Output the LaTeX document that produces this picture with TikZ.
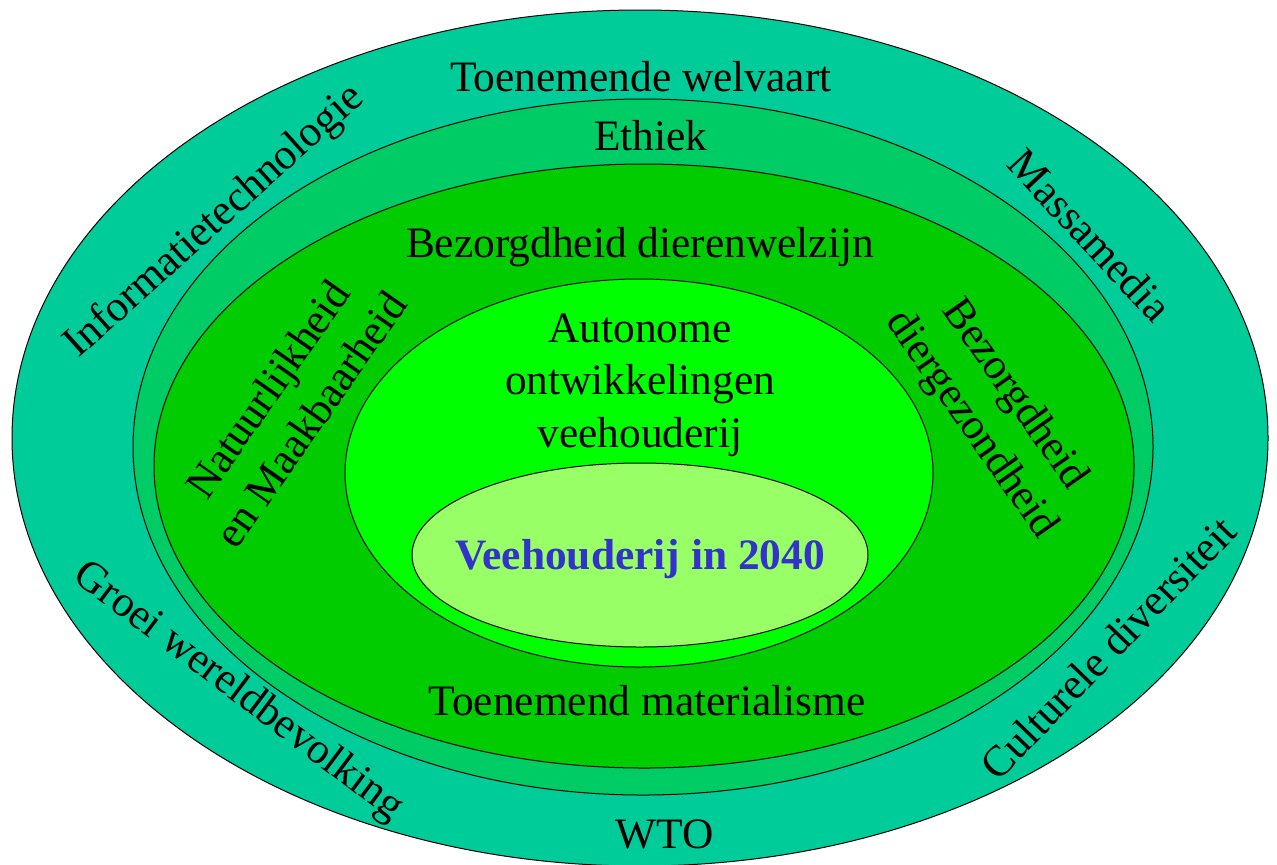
\documentclass[tikz,border=0pt]{standalone}
\usepackage{fontspec}
\setmainfont{Liberation Serif}

\definecolor{ringOuter}{HTML}{00CC99}
\definecolor{ringEthic}{HTML}{00CC66}
\definecolor{ringCare}{HTML}{00CC00}
\definecolor{ringAuto}{HTML}{00FF00}
\definecolor{ringCore}{HTML}{99FF66}
\definecolor{coreText}{HTML}{3333CC}

\begin{document}
\begin{tikzpicture}[x=0.5pt,y=-0.5pt,
    lbl/.style={font=\fontsize{21.7}{26.3}\selectfont, align=center, inner sep=0pt},
    ring/.style={draw=black, line width=0.5pt}]

    \useasboundingbox (0,0) rectangle (1277,864);
    \clip (0,0) rectangle (1277,864);

    % rings, from the outside in
    % colour / centre x / centre y / x radius / y radius
    \foreach \col/\cx/\cy/\rx/\ry in {ringOuter/640/438/628/428,
                                       ringEthic/643/447/510/348,
                                       ringCare/644/466/490/302,
                                       ringAuto/639/473/294/194,
                                       ringCore/640/555/228/92} {
        \filldraw[ring, fill=\col] (\cx,\cy) ellipse [x radius=\rx, y radius=\ry];
    }

    % outer ring
    \node[lbl, anchor=base] (welvaart) at (641,91) {Toenemende welvaart};
    \node[lbl, anchor=base] (wto) at (665,848) {WTO};
    \node[lbl, rotate=42] (infotech) at (215,222) {Informatietechnologie};
    \node[lbl, rotate=-47] (media) at (1090,235) {Massamedia};
    \node[lbl, rotate=-37] (groei) at (238,692) {Groei wereldbevolking};
    \node[lbl, rotate=46] (cultuur) at (1108,648) {Culturele diversiteit};

    % ethics ring
    \node[lbl, anchor=base] (ethiek) at (651,150) {Ethiek};

    % care ring
    \node[lbl, anchor=base] (welzijn) at (640,257) {Bezorgdheid dierenwelzijn};
    \node[lbl, anchor=base] (materialisme) at (647,715) {Toenemend materialisme};
    \node[lbl, rotate=55] (natuur) at (289,404) {Natuurlijkheid\\en Maakbaarheid};
    \node[lbl, rotate=-55] (gezondheid) at (992,410) {Bezorgdheid\\diergezondheid};

    % autonomous developments
    \node[lbl] (autonoom) at (640,385) {Autonome\\ontwikkelingen\\veehouderij};

    % core
    \node[lbl, anchor=base, font=\fontsize{21.7}{26.3}\selectfont\bfseries, text=coreText]
        (kern) at (640,569) {Veehouderij in 2040};

\end{tikzpicture}
\end{document}
